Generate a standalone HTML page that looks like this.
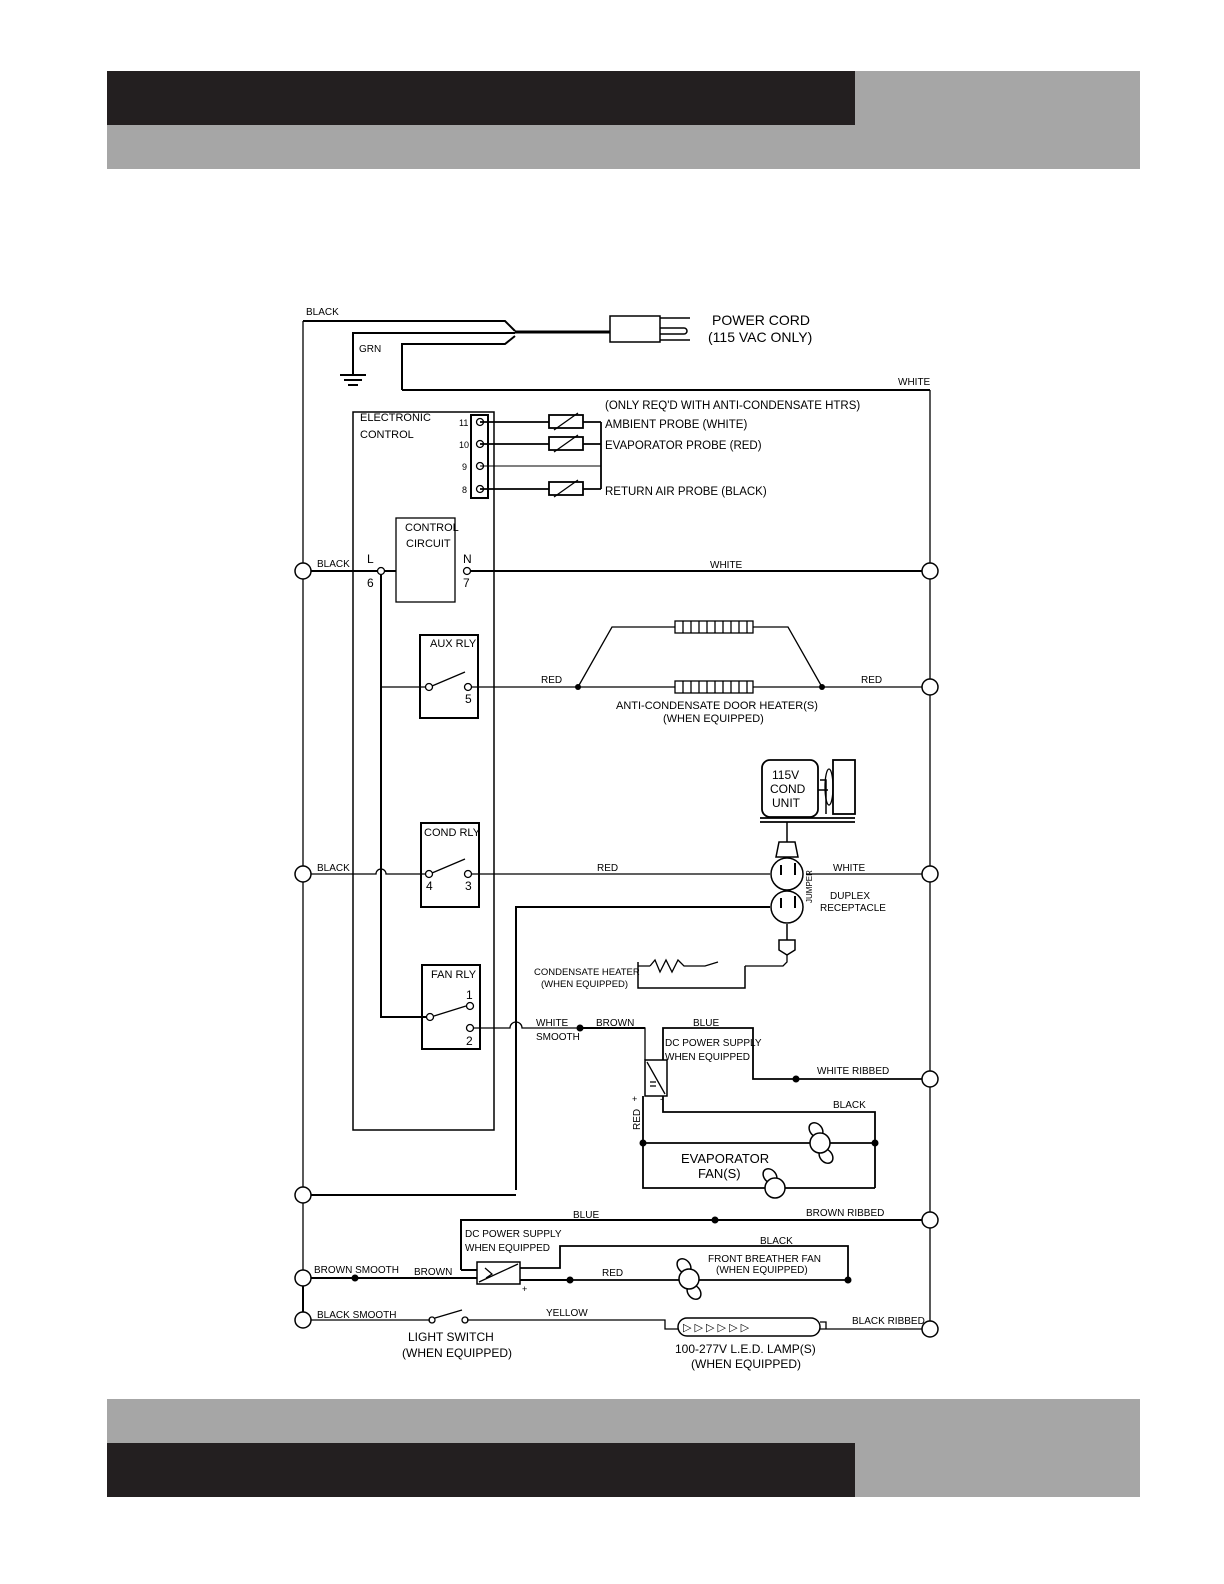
<!DOCTYPE html>
<html><head><meta charset="utf-8"><style>
html,body{margin:0;padding:0;background:#fff;overflow:hidden;width:1224px;height:1584px}
svg{display:block}
text{font-family:"Liberation Sans",sans-serif;fill:#000}
.s{font-size:10px}
</style></head><body>
<svg width="1224" height="1584" viewBox="0 0 1224 1584" xmlns="http://www.w3.org/2000/svg">
<rect x="107" y="71" width="1033" height="98" fill="#a6a6a6"/>
<rect x="107" y="71" width="748" height="54" fill="#231f20"/>
<rect x="107" y="1399" width="1033" height="98" fill="#a6a6a6"/>
<rect x="107" y="1443" width="748" height="54" fill="#231f20"/>

<g stroke="#000" fill="none" stroke-width="1.3">
<path d="M303 321V1320" />
<path d="M930 390V1329" />
<path d="M303 321H505L515 331" stroke-width="2"/>
<path d="M353 375V333H515" stroke-width="2"/>
<path d="M402 390V344H505L515 336" stroke-width="2"/>
<path d="M402 390H930" stroke-width="2"/>
<path d="M515 332H610" stroke-width="3"/>
<path d="M340 375H366M344 380H362M348 385H358" stroke-width="2"/>
<path d="M610 316H660V342H610Z M660 318H690M660 328H684A3 3 0 0 1 684 334H660M660 340H690" stroke-width="1.5"/>
<rect x="353" y="412" width="141" height="718" stroke-width="1.5"/>
<rect x="471" y="415" width="17" height="83" stroke-width="2"/>
<circle cx="480" cy="422" r="3.5"/><circle cx="480" cy="444" r="3.5"/><circle cx="480" cy="466" r="3.5"/><circle cx="480" cy="489" r="3.5"/>
<path d="M480 422H549M583 422H601M480 444H549M583 444H601M480 489H549M583 489H601M601 422V489" stroke-width="1.8"/>
<path d="M480 466H601" stroke-width="1"/>
<rect x="549" y="415" width="34" height="13" stroke-width="1.8"/>
<rect x="549" y="437" width="34" height="13" stroke-width="1.8"/>
<rect x="549" y="482" width="34" height="13" stroke-width="1.8"/>
<path d="M554 430L578 413M554 452L578 435M554 497L578 480"/>
<rect x="396" y="518" width="59" height="84"/>
<path d="M303 571H377M385 571H396M471 571H922" stroke-width="2"/>
<circle cx="381" cy="571" r="3.5"/><circle cx="467" cy="571" r="3.5"/>
<path d="M381 575V1017H426" stroke-width="2"/>
<rect x="420" y="635" width="58" height="83" stroke-width="2"/>
<path d="M381 687H425M432 686L465 672M472 687H675M753 687H922" />
<circle cx="429" cy="687" r="3.5"/><circle cx="468" cy="687" r="3.5"/>
<path d="M578 687L612 627H675M753 627H788L822 687"/>
<rect x="675" y="621" width="78" height="12"/><rect x="675" y="681" width="78" height="12"/>
<path d="M683 621v12M691 621v12M699 621v12M707 621v12M715 621v12M723 621v12M731 621v12M739 621v12M747 621v12M683 681v12M691 681v12M699 681v12M707 681v12M715 681v12M723 681v12M731 681v12M739 681v12M747 681v12"/>
<rect x="421" y="823" width="58" height="84" stroke-width="2"/>
<path d="M311 874H376A5 5 0 0 1 386 874H425M432 873L465 859M472 874H770M806 874H922"/>
<circle cx="429" cy="874" r="3.5"/><circle cx="468" cy="874" r="3.5"/>
<rect x="762" y="760" width="56" height="57" rx="8" stroke-width="1.8"/>
<rect x="833" y="760" width="22" height="54" stroke-width="1.8"/>
<path d="M760 818H855M760 822H855" stroke-width="1.8"/>
<path d="M818 790H828M820 780H826V814M787 822V842" stroke-width="1.5"/>
<ellipse cx="829" cy="787" rx="4" ry="18"/>
<path d="M779 842H795L798 857H776Z" stroke-width="1.5"/>
<circle cx="787" cy="874" r="16" stroke-width="1.5"/>
<circle cx="787" cy="907" r="16" stroke-width="1.5"/>
<path d="M781 865v10M795 863v12M781 898v10M795 896v12" stroke-width="2"/>
<path d="M516 1190V907H770" stroke-width="2"/>
<path d="M787 924V940M779 940H795L795 950L787 955L779 950Z" stroke-width="1.5"/>
<path d="M787 955V962L783 966H745M638 966H650"/>
<path d="M638 962V988H745V966" stroke-width="1.5"/>
<path d="M650 966L655 960L660 972L666 960L672 972L678 960L684 966H705L718 962"/>
<rect x="422" y="965" width="58" height="84" stroke-width="2"/>
<path d="M434 1016L466 1006M474 1028H510A6 6 0 0 1 522 1028H645V1060"/>
<path d="M580 1028H645" stroke-width="2"/>
<circle cx="430" cy="1017" r="3.5"/><circle cx="470" cy="1006" r="3.5"/><circle cx="470" cy="1028" r="3.5"/>
<path d="M303 1195H516" stroke-width="2"/>
<rect x="645" y="1060" width="22" height="36" stroke-width="1.5"/>
<path d="M647 1062L665 1094M650 1082H656M650 1086H656"/>
<path d="M663 1060V1028H753V1079H922" stroke-width="1.8"/>
<path d="M663 1096V1112H875V1188" stroke-width="1.8"/>
<path d="M643 1096V1188H875M643 1143H875" stroke-width="1.8"/>
<path d="M311 1278H477M520 1280H570" stroke-width="2"/>
<path d="M570 1280H848V1246H560V1268H520" stroke-width="1.8"/>
<path d="M461 1270V1220H922" stroke-width="2"/>
<path d="M461 1270H477" stroke-width="2"/>
<rect x="477" y="1262" width="43" height="22" stroke-width="1.5"/>
<path d="M479 1282L518 1264M485 1268L492 1274L486 1278"/>
<path d="M311 1320H430M467 1320H665V1329H678M820 1329H922" />
<path d="M303 1278V1320" stroke-width="2"/>
<circle cx="432" cy="1320" r="3"/><circle cx="465" cy="1320" r="3"/>
<path d="M435 1318L462 1310"/>
<rect x="678" y="1318" width="142" height="18" rx="9" stroke-width="1.5"/>
<path d="M820 1322H826V1329"/>
</g>
<g fill="#000">
<circle cx="578" cy="687" r="3"/><circle cx="822" cy="687" r="3"/>
<circle cx="580" cy="1028" r="3.5"/><circle cx="796" cy="1079" r="3.5"/>
<circle cx="643" cy="1143" r="3.5"/><circle cx="875" cy="1143" r="3.5"/>
<circle cx="715" cy="1220" r="3.5"/><circle cx="355" cy="1278" r="3.5"/><circle cx="570" cy="1280" r="3.5"/><circle cx="848" cy="1280" r="3.5"/>
<text x="683" y="1331" font-size="11">▷ ▷ ▷ ▷ ▷ ▷</text>
</g>
<g fill="#fff" stroke="#000" stroke-width="1.5">
<circle cx="303" cy="571" r="8"/><circle cx="303" cy="874" r="8"/><circle cx="303" cy="1195" r="8"/><circle cx="303" cy="1278" r="8"/><circle cx="303" cy="1320" r="8"/>
<circle cx="930" cy="571" r="8"/><circle cx="930" cy="687" r="8"/><circle cx="930" cy="874" r="8"/><circle cx="930" cy="1079" r="8"/><circle cx="930" cy="1220" r="8"/><circle cx="930" cy="1329" r="8"/>
</g>
<g fill="#fff" stroke="#000" stroke-width="1.5">
<ellipse cx="816" cy="1130" rx="6" ry="8" transform="rotate(-40 816 1130)"/><ellipse cx="826" cy="1156" rx="6" ry="8" transform="rotate(-40 826 1156)"/><circle cx="820" cy="1143" r="10"/>
<ellipse cx="770" cy="1176" rx="6" ry="8" transform="rotate(-40 770 1176)"/><circle cx="775" cy="1188" r="10"/>
<ellipse cx="684" cy="1266" rx="6" ry="8" transform="rotate(-40 684 1266)"/><ellipse cx="694" cy="1292" rx="6" ry="8" transform="rotate(-40 694 1292)"/><circle cx="689" cy="1279" r="10"/>
</g>
<g class="s">
<text x="306" y="315">BLACK</text><text x="359" y="352">GRN</text><text x="898" y="385">WHITE</text>
<text x="317" y="567">BLACK</text><text x="710" y="568">WHITE</text>
<text x="541" y="683">RED</text><text x="861" y="683">RED</text>
<text x="317" y="871">BLACK</text><text x="597" y="871">RED</text><text x="833" y="871">WHITE</text>
<text x="536" y="1026">WHITE</text><text x="536" y="1040">SMOOTH</text><text x="596" y="1026">BROWN</text><text x="693" y="1026">BLUE</text>
<text x="665" y="1046">DC POWER SUPPLY</text><text x="665" y="1060">WHEN EQUIPPED</text>
<text x="817" y="1074">WHITE RIBBED</text><text x="833" y="1108">BLACK</text>
<text x="573" y="1218">BLUE</text><text x="806" y="1216">BROWN RIBBED</text>
<text x="465" y="1237">DC POWER SUPPLY</text><text x="465" y="1251">WHEN EQUIPPED</text>
<text x="760" y="1244">BLACK</text><text x="314" y="1273">BROWN SMOOTH</text><text x="414" y="1275">BROWN</text><text x="602" y="1276">RED</text>
<text x="317" y="1318">BLACK SMOOTH</text><text x="546" y="1316">YELLOW</text><text x="852" y="1324">BLACK RIBBED</text>
<text x="640" y="1130" transform="rotate(-90 640 1130)">RED</text>
<text x="459" y="426" font-size="9">11</text><text x="459" y="448" font-size="9">10</text><text x="462" y="470" font-size="9">9</text><text x="462" y="493" font-size="9">8</text>
<text x="812" y="903" font-size="8" transform="rotate(-90 812 903)">JUMPER</text>
</g>
<g font-size="12">
<text x="712" y="325" font-size="14">POWER CORD</text><text x="708" y="342" font-size="14">(115 VAC ONLY)</text>
<text x="605" y="409" font-size="11.5">(ONLY REQ'D WITH ANTI-CONDENSATE HTRS)</text>
<text x="605" y="428" font-size="11.5">AMBIENT PROBE (WHITE)</text><text x="605" y="449" font-size="11.5">EVAPORATOR PROBE (RED)</text><text x="605" y="495" font-size="11.5">RETURN AIR PROBE (BLACK)</text>
<text x="360" y="421" font-size="11">ELECTRONIC</text><text x="360" y="438" font-size="11">CONTROL</text>
<text x="405" y="531" font-size="11">CONTROL</text><text x="406" y="547" font-size="11">CIRCUIT</text>
<text x="367" y="563">L</text><text x="367" y="587">6</text><text x="463" y="563">N</text><text x="463" y="587">7</text>
<text x="430" y="647" font-size="11">AUX RLY</text><text x="465" y="703">5</text>
<text x="424" y="836" font-size="11">COND RLY</text><text x="426" y="890">4</text><text x="465" y="890">3</text>
<text x="431" y="978" font-size="11">FAN RLY</text><text x="466" y="999">1</text><text x="466" y="1045">2</text>
<text x="616" y="709" font-size="11">ANTI-CONDENSATE DOOR HEATER(S)</text><text x="663" y="722" font-size="11">(WHEN EQUIPPED)</text>
<text x="772" y="779">115V</text><text x="770" y="793">COND</text><text x="772" y="807">UNIT</text>
<text x="830" y="899" font-size="10">DUPLEX</text><text x="820" y="911" font-size="10">RECEPTACLE</text>
<text x="534" y="975" font-size="9.5">CONDENSATE HEATER</text><text x="541" y="987" font-size="9.5">(WHEN EQUIPPED)</text>
<text x="681" y="1163" font-size="13">EVAPORATOR</text><text x="698" y="1178" font-size="13">FAN(S)</text>
<text x="708" y="1262" font-size="10">FRONT BREATHER FAN</text><text x="716" y="1273" font-size="10">(WHEN EQUIPPED)</text>
<text x="408" y="1341">LIGHT SWITCH</text><text x="402" y="1357">(WHEN EQUIPPED)</text>
<text x="675" y="1353">100-277V L.E.D. LAMP(S)</text><text x="691" y="1368">(WHEN EQUIPPED)</text>
<text x="632" y="1102" font-size="9">+</text><text x="660" y="1102" font-size="9">-</text><text x="522" y="1292" font-size="9">+</text>
</g>
</svg>
</body></html>
